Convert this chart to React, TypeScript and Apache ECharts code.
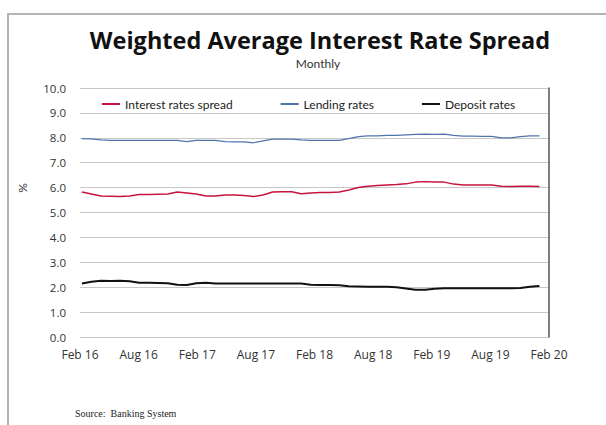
import { useEffect, useRef } from "react";
import * as echarts from "echarts";

// Axis tick labels (every six months)
const tickLabels = [
  "Feb 16", "Aug 16", "Feb 17", "Aug 17", "Feb 18",
  "Aug 18", "Feb 19", "Aug 19", "Feb 20",
];

// Monthly values, Feb 2016 .. Feb 2020 (49 months), in %
const spread = [
  5.82, 5.74, 5.66, 5.65, 5.64, 5.66, 5.72, 5.72, 5.73, 5.74,
  5.82, 5.78, 5.74, 5.66, 5.66, 5.70, 5.70, 5.68, 5.64, 5.70,
  5.82, 5.83, 5.83, 5.75, 5.78, 5.80, 5.80, 5.82, 5.90, 6.00,
  6.05, 6.08, 6.10, 6.12, 6.15, 6.22, 6.24, 6.22, 6.22, 6.14,
  6.10, 6.10, 6.10, 6.10, 6.05, 6.04, 6.05, 6.05, 6.04,
];

const lending = [
  7.97, 7.96, 7.92, 7.90, 7.90, 7.90, 7.90, 7.90, 7.90, 7.90,
  7.90, 7.85, 7.90, 7.90, 7.90, 7.85, 7.84, 7.84, 7.80, 7.88,
  7.95, 7.95, 7.95, 7.92, 7.90, 7.90, 7.90, 7.90, 7.97, 8.05,
  8.08, 8.08, 8.10, 8.10, 8.12, 8.14, 8.15, 8.14, 8.15, 8.10,
  8.07, 8.07, 8.06, 8.06, 8.00, 8.00, 8.05, 8.08, 8.08,
];

const deposit = [
  2.15, 2.22, 2.26, 2.25, 2.26, 2.24, 2.18, 2.18, 2.17, 2.16,
  2.10, 2.09, 2.16, 2.18, 2.15, 2.15, 2.15, 2.15, 2.15, 2.15,
  2.15, 2.15, 2.15, 2.15, 2.10, 2.09, 2.09, 2.08, 2.04, 2.03,
  2.02, 2.02, 2.02, 2.00, 1.95, 1.90, 1.90, 1.94, 1.96, 1.96,
  1.96, 1.96, 1.96, 1.96, 1.96, 1.96, 1.97, 2.02, 2.05,
];

const FONT = "Lato, 'Open Sans', 'DejaVu Sans', sans-serif";
const AXIS_FONT = "'Open Sans', Lato, sans-serif";

export default function App() {
  const ref = useRef<HTMLDivElement>(null);

  useEffect(() => {
    if (!ref.current) return;
    const chart = echarts.init(ref.current, null, { renderer: "svg" });
    const toPoints = (arr: number[]) => arr.map((v, i) => [i, v]);

    chart.setOption({
      animation: false,
      backgroundColor: "#ffffff",
      textStyle: { fontFamily: FONT },
      grid: { left: 80, right: 57, top: 88, bottom: 88, containLabel: false },
      legend: {
        left: 97,
        top: 93,
        icon: "rect",
        itemWidth: 18,
        itemHeight: 2,
        itemGap: 48,
        textStyle: { fontFamily: FONT, fontSize: 12, color: "#222" },
        data: ["Interest rates spread", "Lending rates", "Deposit rates"],
      },
      xAxis: [
        {
          type: "value",
          min: -0.2,
          max: 49,
          show: false,
        },
        {
          type: "category",
          data: tickLabels,
          boundaryGap: false,
          position: "bottom",
          axisLine: { show: false },
          axisTick: { show: false },
          splitLine: { show: false },
          axisLabel: {
            margin: 11,
            fontSize: 12,
            color: "#333",
            fontFamily: AXIS_FONT,
            interval: 0,
          },
        },
      ],
      yAxis: [
        {
          type: "value",
          min: 0,
          max: 10,
          interval: 1,
          axisLine: { show: false },
          axisTick: { show: false },
          axisLabel: {
            formatter: (v: number) => v.toFixed(1),
            margin: 14,
            fontSize: 11.5,
            color: "#333",
            fontFamily: AXIS_FONT,
          },
          splitLine: { lineStyle: { color: "#c8c8c8", width: 1 } },
        },
        {
          type: "value",
          position: "right",
          min: 0,
          max: 10,
          axisLine: { show: true, lineStyle: { color: "#555", width: 1.5 } },
          axisTick: { show: false },
          axisLabel: { show: false },
          splitLine: { show: false },
        },
      ],
      series: [
        {
          name: "Interest rates spread",
          type: "line",
          data: toPoints(spread),
          symbol: "none",
          lineStyle: { color: "#c8143c", width: 1.5 },
          itemStyle: { color: "#c8143c" },
        },
        {
          name: "Lending rates",
          type: "line",
          data: toPoints(lending),
          symbol: "none",
          lineStyle: { color: "#4f74ad", width: 1.2 },
          itemStyle: { color: "#4f74ad" },
        },
        {
          name: "Deposit rates",
          type: "line",
          data: toPoints(deposit),
          symbol: "none",
          lineStyle: { color: "#111111", width: 2 },
          itemStyle: { color: "#111111" },
        },
      ],
      graphic: [
        {
          type: "rect",
          shape: { x: 8, y: 14, width: 720, height: 520 },
          style: { fill: "none", stroke: "#b4b4b4", lineWidth: 2 },
          silent: true,
        },
        {
          type: "text",
          x: 320,
          y: 40,
          style: {
            text: "Weighted Average Interest Rate Spread",
            font: `bold 23.5px ${AXIS_FONT}`,
            fill: "#111",
            textAlign: "center",
            textVerticalAlign: "middle",
            align: "center",
            verticalAlign: "middle",
          },
        },
        {
          type: "text",
          x: 318,
          y: 63,
          style: {
            text: "Monthly",
            font: `12px ${FONT}`,
            fill: "#333",
            textAlign: "center",
            textVerticalAlign: "middle",
            align: "center",
            verticalAlign: "middle",
          },
        },
        {
          type: "text",
          x: 22,
          y: 188,
          rotation: Math.PI / 2,
          style: {
            text: "%",
            font: `12px ${FONT}`,
            fill: "#333",
            textAlign: "center",
            textVerticalAlign: "middle",
            align: "center",
            verticalAlign: "middle",
          },
        },
        {
          type: "text",
          x: 75,
          y: 413,
          style: {
            text: "Source:  Banking System",
            font: `10px 'Liberation Serif', serif`,
            fill: "#222",
            textAlign: "left",
            textVerticalAlign: "middle",
            align: "left",
            verticalAlign: "middle",
          },
        },
      ],
    });

    return () => chart.dispose();
  }, []);

  return (
    <div
      ref={ref}
      style={{ position: "fixed", left: 0, top: 0, width: 606, height: 425 }}
    />
  );
}
